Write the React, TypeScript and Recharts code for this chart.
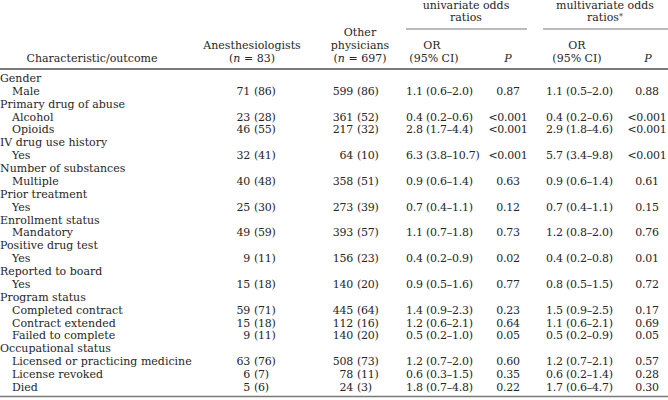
import React from 'react';
import { ScatterChart, Scatter, XAxis, YAxis } from 'recharts';

const GROUPS = [
  'Gender',
  'Primary drug of abuse',
  'IV drug use history',
  'Number of substances',
  'Prior treatment',
  'Enrollment status',
  'Positive drug test',
  'Reported to board',
  'Program status',
  'Occupational status',
];
const ITEMS = [
  'Male', 'Alcohol', 'Opioids', 'Yes', 'Multiple', 'Yes', 'Mandatory', 'Yes', 'Yes',
  'Completed contract', 'Contract extended', 'Failed to complete',
  'Licensed or practicing medicine', 'License revoked', 'Died',
];
const ITEM_GROUP = [0, 1, 1, 2, 3, 4, 5, 6, 7, 8, 8, 8, 9, 9, 9];

const ANES_N = [71, 23, 46, 32, 40, 25, 49, 9, 15, 59, 15, 9, 63, 6, 5];
const ANES_PCT = [86, 28, 55, 41, 48, 30, 59, 11, 18, 71, 18, 11, 76, 7, 6];
const OTHER_N = [599, 361, 217, 64, 358, 273, 393, 156, 140, 445, 112, 140, 508, 78, 24];
const OTHER_PCT = [86, 52, 32, 10, 51, 39, 57, 23, 20, 64, 16, 20, 73, 11, 3];

const UNI_OR = [1.1, 0.4, 2.8, 6.3, 0.9, 0.7, 1.1, 0.4, 0.9, 1.4, 1.2, 0.5, 1.2, 0.6, 1.8];
const UNI_LO = [0.6, 0.2, 1.7, 3.8, 0.6, 0.4, 0.7, 0.2, 0.5, 0.9, 0.6, 0.2, 0.7, 0.3, 0.7];
const UNI_HI = [2.0, 0.6, 4.4, 10.7, 1.4, 1.1, 1.8, 0.9, 1.6, 2.3, 2.1, 1.0, 2.0, 1.5, 4.8];
const UNI_P = ['0.87', '<0.001', '<0.001', '<0.001', '0.63', '0.12', '0.73', '0.02', '0.77', '0.23', '0.64', '0.05', '0.60', '0.35', '0.22'];

const MULTI_OR = [1.1, 0.4, 2.9, 5.7, 0.9, 0.7, 1.2, 0.4, 0.8, 1.5, 1.1, 0.5, 1.2, 0.6, 1.7];
const MULTI_LO = [0.5, 0.2, 1.8, 3.4, 0.6, 0.4, 0.8, 0.2, 0.5, 0.9, 0.6, 0.2, 0.7, 0.2, 0.6];
const MULTI_HI = [2.0, 0.6, 4.6, 9.8, 1.4, 1.1, 2.0, 0.8, 1.5, 2.5, 2.1, 0.9, 2.1, 1.4, 4.7];
const MULTI_P = ['0.88', '<0.001', '<0.001', '<0.001', '0.61', '0.15', '0.76', '0.01', '0.72', '0.17', '0.69', '0.05', '0.57', '0.28', '0.30'];

// column anchors (px), layout only
const COL = {
  group: 0,
  item: 12,
  anesN: 250,
  anesPct: 254,
  otherN: 353,
  otherPct: 357,
  uniOr: 406,
  uniP: 508,
  multiOr: 546,
  multiP: 647,
};

const FONT = '"DejaVu Serif", serif';
const FS = 11;
const INK = '#262626';
const RULE = '#7a7a7a';

const fmtCi = (or: number, lo: number, hi: number) =>
  `${or.toFixed(1)} (${lo.toFixed(1)}\u2013${hi.toFixed(1)})`;

// assign a row index to every group heading and item
const groupRows: { x: number; y: number; text: string }[] = [];
const itemRow: number[] = [];
{
  let r = 0;
  GROUPS.forEach((g, gi) => {
    groupRows.push({ x: COL.group, y: r, text: g });
    r++;
    ITEM_GROUP.forEach((ig, ii) => {
      if (ig === gi) {
        itemRow[ii] = r;
        r++;
      }
    });
  });
}
const ROW_COUNT = GROUPS.length + ITEMS.length;

const col = (x: number, texts: string[]) => texts.map((text, i) => ({ x, y: itemRow[i], text }));

const itemLabels = col(COL.item, ITEMS);
const anesN = col(COL.anesN, ANES_N.map(String));
const anesPct = col(COL.anesPct, ANES_PCT.map((p) => `(${p})`));
const otherN = col(COL.otherN, OTHER_N.map(String));
const otherPct = col(COL.otherPct, OTHER_PCT.map((p) => `(${p})`));
const uniOr = col(COL.uniOr, UNI_OR.map((v, i) => fmtCi(v, UNI_LO[i], UNI_HI[i])));
const uniP = col(COL.uniP, UNI_P);
const multiOr = col(COL.multiOr, MULTI_OR.map((v, i) => fmtCi(v, MULTI_LO[i], MULTI_HI[i])));
const multiP = col(COL.multiP, MULTI_P);

const textShape = (anchor: 'start' | 'middle' | 'end', tight = false) => (props: any) => (
  <text
    x={props.cx}
    y={props.cy}
    dy="0.36em"
    textAnchor={anchor}
    fontFamily={FONT}
    fontSize={FS}
    letterSpacing={tight ? -0.25 : 0}
    fill={INK}
  >
    {props.payload.text}
  </text>
);

const H = ({ x, y, children, anchor = 'middle' }: any) => (
  <text x={x} y={y} dy="0.36em" textAnchor={anchor} fontFamily={FONT} fontSize={FS} fill={INK}>
    {children}
  </text>
);

const Header = () => (
  <svg width={668} height={400} style={{ position: 'absolute', left: 0, top: 0, pointerEvents: 'none' }}>
    <H x={466} y={5}>univariate odds</H>
    <H x={466} y={17}>ratios</H>
    <H x={605} y={5}>multivariate odds</H>
    <H x={605} y={17}>
      ratios<tspan fontSize={8} dy="-0.3em">*</tspan>
    </H>
    <line x1={406} x2={527} y1={29} y2={29} stroke={RULE} strokeWidth={1.2} />
    <line x1={543} x2={668} y1={29} y2={29} stroke={RULE} strokeWidth={1.2} />

    <H x={92} y={58}>Characteristic/outcome</H>
    <H x={252} y={45}>Anesthesiologists</H>
    <H x={252} y={58}>
      (<tspan fontStyle="italic">n</tspan> = 83)
    </H>
    <H x={360} y={32}>Other</H>
    <H x={360} y={45}>physicians</H>
    <H x={360} y={58}>
      (<tspan fontStyle="italic">n</tspan> = 697)
    </H>
    <H x={432} y={45}>OR</H>
    <H x={434} y={58}>(95% CI)</H>
    <H x={508} y={58}>
      <tspan fontStyle="italic">P</tspan>
    </H>
    <H x={577} y={45}>OR</H>
    <H x={577} y={58}>(95% CI)</H>
    <H x={648} y={58}>
      <tspan fontStyle="italic">P</tspan>
    </H>

    <line x1={0} x2={668} y1={69} y2={69} stroke={RULE} strokeWidth={2} />
    <line x1={0} x2={668} y1={396.5} y2={396.5} stroke={RULE} strokeWidth={1.5} />
  </svg>
);

export default function App() {
  return (
    <div style={{ position: 'relative', width: 668, height: 400, background: '#fff', overflow: 'hidden' }}>
      <style>{'body{margin:0}'}</style>
      <ScatterChart width={668} height={400} margin={{ top: 78, right: 0, bottom: 13, left: 0 }}>
        <XAxis type="number" dataKey="x" domain={[0, 668]} hide />
        <YAxis type="number" dataKey="y" domain={[0, ROW_COUNT - 1]} reversed hide />
        <Scatter data={groupRows} shape={textShape('start')} isAnimationActive={false} />
        <Scatter data={itemLabels} shape={textShape('start')} isAnimationActive={false} />
        <Scatter data={anesN} shape={textShape('end', true)} isAnimationActive={false} />
        <Scatter data={anesPct} shape={textShape('start', true)} isAnimationActive={false} />
        <Scatter data={otherN} shape={textShape('end', true)} isAnimationActive={false} />
        <Scatter data={otherPct} shape={textShape('start', true)} isAnimationActive={false} />
        <Scatter data={uniOr} shape={textShape('start', true)} isAnimationActive={false} />
        <Scatter data={uniP} shape={textShape('middle', true)} isAnimationActive={false} />
        <Scatter data={multiOr} shape={textShape('start', true)} isAnimationActive={false} />
        <Scatter data={multiP} shape={textShape('middle', true)} isAnimationActive={false} />
      </ScatterChart>
      <Header />
    </div>
  );
}
